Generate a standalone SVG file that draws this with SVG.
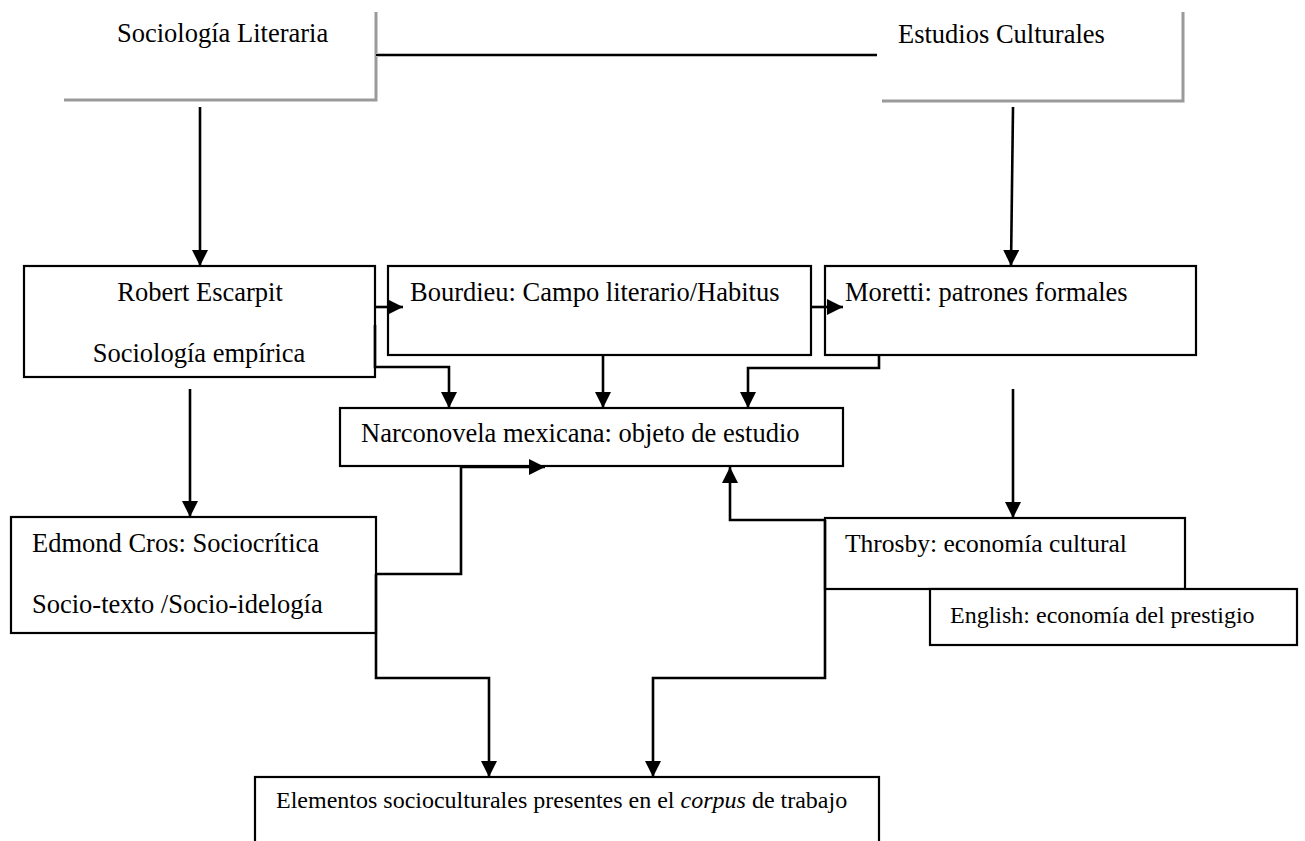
<svg xmlns="http://www.w3.org/2000/svg" width="1305" height="841" viewBox="0 0 1305 841">
  <style>
    .txt { font-family: "Liberation Serif", "Times New Roman", serif; font-size: 26.5px; fill: #000; }
    .sm { font-size: 24px; }
    .box { fill: #fff; stroke: #000; stroke-width: 2.2; }
    .frame { fill: none; stroke: #9a9a9a; stroke-width: 3; }
    .wire { fill: none; stroke: #000; stroke-width: 2.6; }
  </style>
  <defs>
    <marker id="head" markerUnits="userSpaceOnUse" markerWidth="18" markerHeight="17" refX="16" refY="8" orient="auto">
      <path d="M0,0 L16,8 L0,16 Z" fill="#000"/>
    </marker>
  </defs>
  <rect width="1305" height="841" fill="#fff"/>

  <!-- header blocks -->
  <g id="sociologia-literaria">
    <path class="frame" d="M64,100 H376 V12"/>
    <text class="txt" x="117" y="42">Sociología Literaria</text>
  </g>
  <g id="estudios-culturales">
    <path class="frame" d="M882,101 H1183 V12"/>
    <text class="txt" x="898" y="43">Estudios Culturales</text>
  </g>

  <!-- nodes -->
  <g id="escarpit">
    <rect class="box" x="24" y="266" width="351" height="111"/>
    <text class="txt" x="200" y="301" text-anchor="middle">Robert Escarpit</text>
    <text class="txt" x="199" y="362" text-anchor="middle">Sociología empírica</text>
  </g>
  <g id="bourdieu">
    <rect class="box" x="388" y="266" width="423" height="89"/>
    <text class="txt" x="410" y="301">Bourdieu: Campo literario/Habitus</text>
  </g>
  <g id="moretti">
    <rect class="box" x="825" y="266" width="371" height="89"/>
    <text class="txt" x="845" y="301">Moretti: patrones formales</text>
  </g>
  <g id="narconovela">
    <rect class="box" x="340" y="408" width="503" height="58"/>
    <text class="txt" x="361" y="442">Narconovela mexicana: objeto de estudio</text>
  </g>
  <g id="cros">
    <rect class="box" x="11" y="517" width="365" height="116"/>
    <text class="txt" x="32" y="552">Edmond Cros: Sociocrítica</text>
    <text class="txt" x="32" y="613">Socio-texto /Socio-idelogía</text>
  </g>
  <g id="throsby">
    <rect class="box" x="825" y="518" width="360" height="71"/>
    <text class="txt" x="845" y="552" style="font-size:25.5px">Throsby: economía  cultural</text>
  </g>
  <g id="english">
    <rect class="box" x="930" y="589" width="367" height="56"/>
    <text class="txt sm" x="950" y="623">English: economía del prestigio</text>
  </g>
  <g id="elementos">
    <rect class="box" x="255" y="777" width="624" height="80"/>
    <text class="txt sm" x="276" y="808">Elementos socioculturales  presentes en el <tspan font-style="italic">corpus</tspan> de trabajo</text>
  </g>

  <!-- connectors -->
  <g id="connectors">
    <line x1="376" y1="55" x2="877" y2="55" stroke="#bbb" stroke-width="4"/>
    <line x1="376" y1="55" x2="877" y2="55" stroke="#000" stroke-width="2"/>
    <path class="wire" d="M200,107 V266" marker-end="url(#head)"/>
    <path class="wire" d="M1013,107 L1011,266" marker-end="url(#head)"/>
    <path class="wire" d="M375,307 H403" marker-end="url(#head)"/>
    <path class="wire" d="M811,307 H843" marker-end="url(#head)"/>
    <path class="wire" d="M375,325 V367 H449 V408" marker-end="url(#head)"/>
    <path class="wire" d="M603,355 V408" marker-end="url(#head)"/>
    <path class="wire" d="M879,355 V368 H748 V408" marker-end="url(#head)"/>
    <path class="wire" d="M190,389 V517" marker-end="url(#head)"/>
    <path class="wire" d="M1013,389 V518" marker-end="url(#head)"/>
    <path class="wire" d="M376,574 H461 V467 H545" marker-end="url(#head)"/>
    <path class="wire" d="M825,520 H730 V467" marker-end="url(#head)"/>
    <path class="wire" d="M376,574 V678 H489 V777" marker-end="url(#head)"/>
    <path class="wire" d="M825,520 V678 H653 V777" marker-end="url(#head)"/>
  </g>
</svg>
